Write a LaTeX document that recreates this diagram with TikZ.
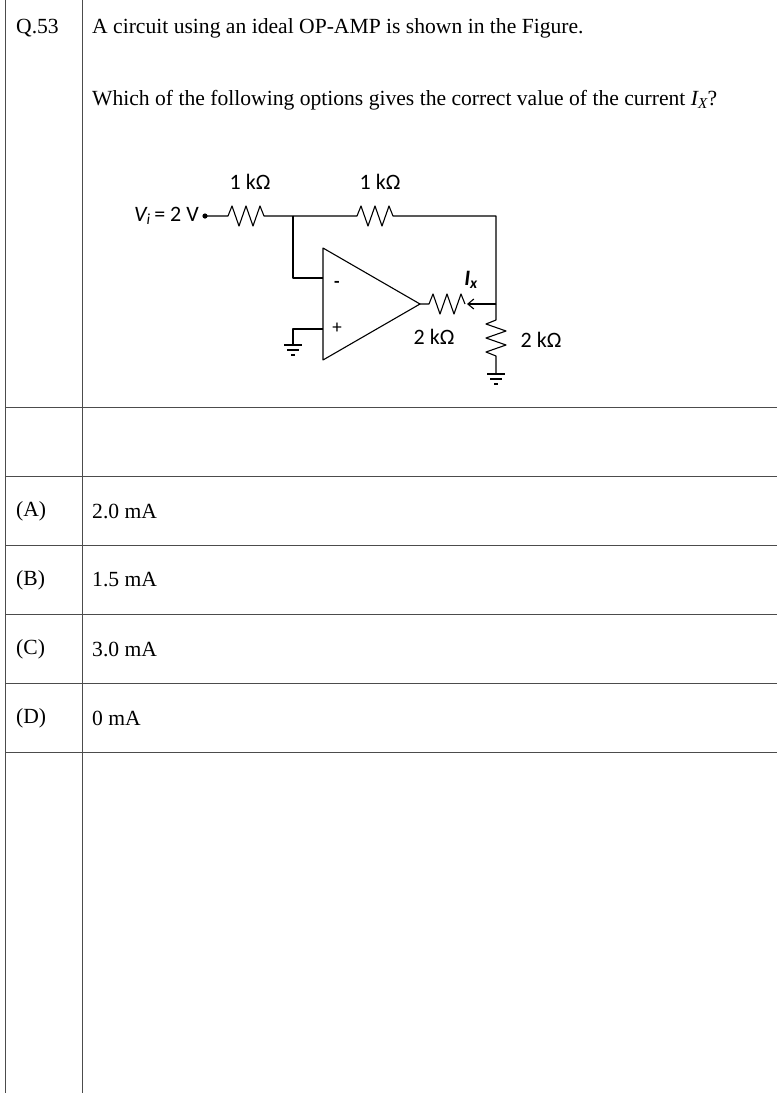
\documentclass[tikz,border=0pt]{standalone}
\usepackage{fontspec}
\setmainfont{Liberation Serif}
\newfontfamily\calfont{Carlito}
\usetikzlibrary{arrows.meta}
\begin{document}
\begin{tikzpicture}[x=1pt,y=-1pt,
  grid/.style={draw=black!70,line width=0.8pt},
  wire/.style={line width=1.1pt,line join=round},
  txt/.style={anchor=west,font=\fontsize{21.6}{24}\selectfont,inner sep=0},
  lab/.style={font=\calfont\fontsize{22}{24}\selectfont,inner sep=0}]
\useasboundingbox (0,0) rectangle (777,1093);
% table
\draw[grid] (5,0)--(5,1093);
\draw[grid] (82,0)--(82,1093);
\foreach \y in {407,476,545,614,683,752} \draw[grid] (5,\y)--(777,\y);
\node[txt] (q) at (16,28) {Q.53};
\node[txt] (t1) at (92,28) {A circuit using an ideal OP-AMP is shown in the Figure.};
\node[txt] (t2) at (92,100) {Which of the following options gives the correct value of the current \textit{I\textsubscript{X}}?};
\node[txt] (oa) at (16,511) {(A)}; \node[txt] (a) at (92,511) {2.0 mA};
\node[txt] (ob) at (16,580) {(B)}; \node[txt] (b) at (92,580) {1.5 mA};
\node[txt] (oc) at (16,649) {(C)}; \node[txt] (c) at (92,649) {3.0 mA};
\node[txt] (od) at (16,718) {(D)}; \node[txt] (d) at (92,718) {0 mA};
% circuit
\coordinate (vi) at (205,216);
\coordinate (j) at (293,216);
\coordinate (r) at (496,216);
\coordinate (out) at (420,304);
\coordinate (ro) at (496,304);
\fill (vi) circle (2.6);
\draw[wire] (vi)--(228,216)--(232,206)--(239,226)--(246,206)--(253,226)--(260,206)--(264,216)--(j);
\draw[wire] (j)--(357,216)--(361,206)--(368,226)--(375,206)--(382,226)--(389,206)--(393,216)--(r)--(ro);
\draw[wire] (j)--(293,278)--(323,278);
\draw[wire] (323,248)--(out)--(323,360)--cycle;
\node[font=\calfont\bfseries\fontsize{18}{18}\selectfont] (m) at (337,284) {-};
\node[font=\calfont\fontsize{19}{19}\selectfont] (p) at (337,328) {+};
\draw[wire] (323,329)--(293,329)--(293,345);
\draw[wire] (284,345)--(302,345) (287,350)--(299,350) (291,355)--(295,355);
\draw[wire] (out)--(429,304)--(433,294)--(440,314)--(447,294)--(454,314)--(461,294)--(465,304);
\draw[wire,-{Straight Barb[length=6pt,width=10pt]}] (ro)--(467,304);
\draw[wire] (ro)--(496,320)--(486,324)--(506,331)--(486,338)--(506,345)--(486,352)--(496,356)--(496,374);
\draw[wire] (487,374)--(505,374) (490,379)--(502,379) (494,384)--(498,384);
\node[lab,anchor=east] (vl) at (199,216) {\textit{V\textsubscript{i}}\,= 2 V};
\node[lab] (l1) at (250,182) {1 kΩ};
\node[lab] (l2) at (380,182) {1 kΩ};
\node[lab] (l3) at (434,337) {2 kΩ};
\node[lab] (l4) at (541,340) {2 kΩ};
\node[lab] (ix) at (471,280) {\bfseries\itshape I\textsubscript{\bfseries\itshape x}};
\end{tikzpicture}
\end{document}
